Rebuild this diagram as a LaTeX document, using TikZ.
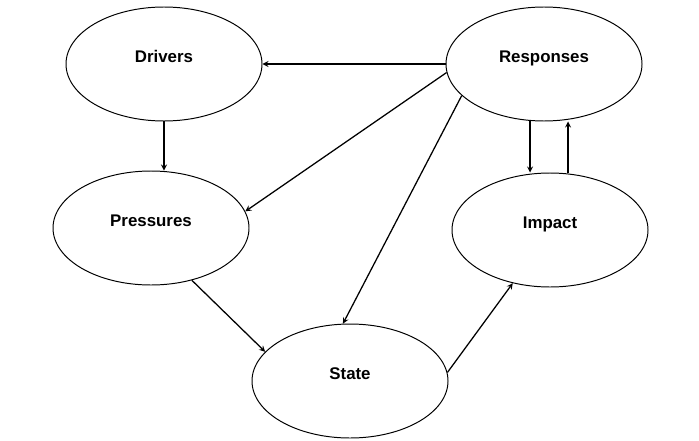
\documentclass[tikz,border=0pt]{standalone}
\usepackage{fontspec}
\setmainfont{Liberation Sans}
\usetikzlibrary{shapes.geometric,positioning}

\begin{document}
\begin{tikzpicture}[node distance=4cm, >=stealth,
    factor/.style={draw, ellipse, line width=0.7pt, minimum width=4.9cm, minimum height=2.85cm,
        font=\fontsize{12}{14}\selectfont\bfseries, text height=0.25cm, text depth=0.35cm},
    link/.style={->, line width=0.9pt}]
    \useasboundingbox (0,0) rectangle (17.475,-11);

    % Factors
    \node[factor] at (4.1,-1.6) (drivers) {Drivers};
    \node[factor, right of=drivers, node distance=9.5cm] (responses) {Responses};
    \node[factor, below of=drivers, node distance=4.1cm, xshift=-0.325cm] (pressures) {Pressures};
    \node[factor, below of=responses, node distance=4.15cm, xshift=0.15cm] (impact) {Impact};
    \node[factor] at (8.75,-9.525) (state) {State};

    % Links
    \draw[link] (responses.west) -- (drivers.east);
    \draw[link] (drivers.south) -- (drivers.south |- pressures.north);
    \draw[link] (responses.185) -- (pressures.10);
    \draw[link] (responses.201) -- (state.97);
    \draw[link] (pressures.308) -- (state.161);
    \draw[link] (state.5) -- (impact.235);
    \draw[link] ([xshift=-0.35cm]responses.south) -- ([xshift=-0.35cm]responses.south |- impact.north);
    \draw[link] ([xshift=0.6cm]responses.south |- impact.north) -- ([xshift=0.6cm]responses.south);
\end{tikzpicture}
\end{document}
